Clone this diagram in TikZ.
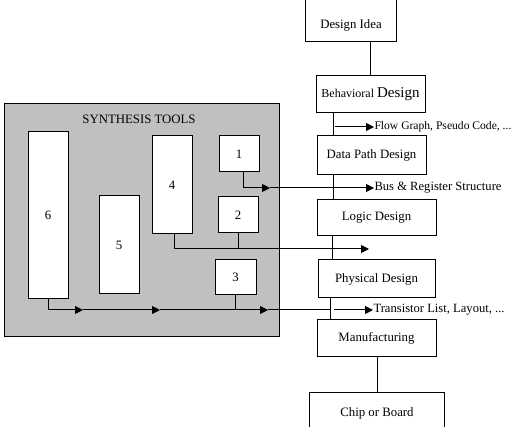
\documentclass[tikz,border=0pt]{standalone}
\usepackage{fontspec}
\setmainfont{Liberation Serif}
\usetikzlibrary{arrows.meta,calc}
\definecolor{shade}{HTML}{C0C0C0}
\begin{document}
\begin{tikzpicture}[x=1pt,y=-1pt,line width=1pt,
  box/.style={draw,fill=white,inner sep=0pt,minimum width=#1,font=\fontsize{12.8}{15}\selectfont},
  frame/.style={inner sep=0pt},
  lbl/.style={inner sep=0pt,font=\fontsize{12.8}{15}\selectfont},
  txt/.style={inner sep=0pt,anchor=west,font=\fontsize{12.6}{15}\selectfont},
  arr/.style={-{Triangle[length=8pt,width=8pt]}}]
\useasboundingbox (0,0) rectangle (530,427);
% synthesis tools panel
\node[draw,fill=shade,inner sep=0pt,minimum width=275,minimum height=233] (panel) at (141.5,220.5) {};
\node[lbl] (ptitle) at (139,119) {SYNTHESIS TOOLS};
\node[box=40,minimum height=36] (t1) at (239,154) {1};
\node[box=40,minimum height=36] (t2) at (238,215) {2};
\node[box=41,minimum height=35] (t3) at (235.5,277.5) {3};
\node[box=40,minimum height=98] (t4) at (172,185) {4};
\node[box=40,minimum height=98] (t5) at (119,245) {5};
\node[box=40,minimum height=167] (t6) at (48,215.5) {6};
% design flow
\node[frame,minimum width=90,minimum height=42] (idea) at (351,20) {};
\draw (idea.north west) -- (idea.south west) -- (idea.south east) -- (idea.north east);
\node[lbl] (idealbl) at (351,25) {Design Idea};
\node[box=109,minimum height=37] (behav) at (370.5,94.5) {\fontsize{12}{15}\selectfont Behavioral \fontsize{15}{17}\selectfont Design};
\node[box=109,minimum height=39] (dp) at (371.5,155.5) {Data Path Design};
\node[box=119,minimum height=36] (logic) at (376.5,218) {Logic Design};
\node[box=117,minimum height=38] (phys) at (376.5,279) {Physical Design};
\node[box=119,minimum height=37] (manu) at (376.5,338.5) {Manufacturing};
\node[frame,minimum width=134,minimum height=36] (chip) at (377,411) {};
\draw (chip.south west) -- (chip.north west) -- (chip.north east) -- (chip.south east);
\node[lbl] (chiplbl) at (377,413) {Chip or Board};
% spine
\draw (behav.north |- idea.south) -- (behav.north);
\draw ([xshift=18]behav.south west) -- ([xshift=18]behav.south west |- dp.north);
\draw ([xshift=17]dp.south west) -- ([xshift=17]dp.south west |- logic.north);
\draw ([xshift=16]logic.south west) -- ([xshift=16]logic.south west |- phys.north);
\draw ([xshift=13]phys.south west) -- ([xshift=13]phys.south west |- manu.north);
\draw (manu.south -| chip.north) -- (chip.north);
% flow graph
\coordinate (fgs) at (335,127);
\node[txt,font=\fontsize{11.6}{14}\selectfont] (fglbl) at (374,127) {Flow Graph, Pseudo Code, ...};
\draw[arr] (fgs) -- (fglbl.west);
% bus & register
\coordinate (b1) at (243,188);
\coordinate (bm) at (270,188);
\node[txt] (buslbl) at (374,188) {Bus \& Register Structure};
\draw (b1 |- t1.south) -- (b1);
\draw[arr] (b1) -- (bm);
\draw[arr] (bm) -- (buslbl.west);
% logic arrow
\coordinate (l1) at (174,249);
\coordinate (lend) at (369,249);
\draw (l1 |- t4.south) -- (l1);
\draw[arr] (l1) -- (lend);
\draw (t2.south) -- (t2.south |- l1);
% transistor
\coordinate (r1) at (48,310);
\coordinate (rm1) at (83,310);
\coordinate (rm2) at (160,310);
\coordinate (rm3) at (268,310);
\coordinate (rend) at (331,310);
\coordinate (rs) at (334,310);
\node[txt] (trlbl) at (373,310) {Transistor List, Layout, ...};
\draw (t6.south) -- (r1);
\draw[arr] (r1) -- (rm1);
\draw[arr] (rm1) -- (rm2);
\draw[arr] (rm2) -- (rm3);
\draw (rm3) -- (rend);
\draw (t3.south) -- (t3.south |- r1);
\draw[arr] (rs) -- (trlbl.west);
\end{tikzpicture}
\end{document}
